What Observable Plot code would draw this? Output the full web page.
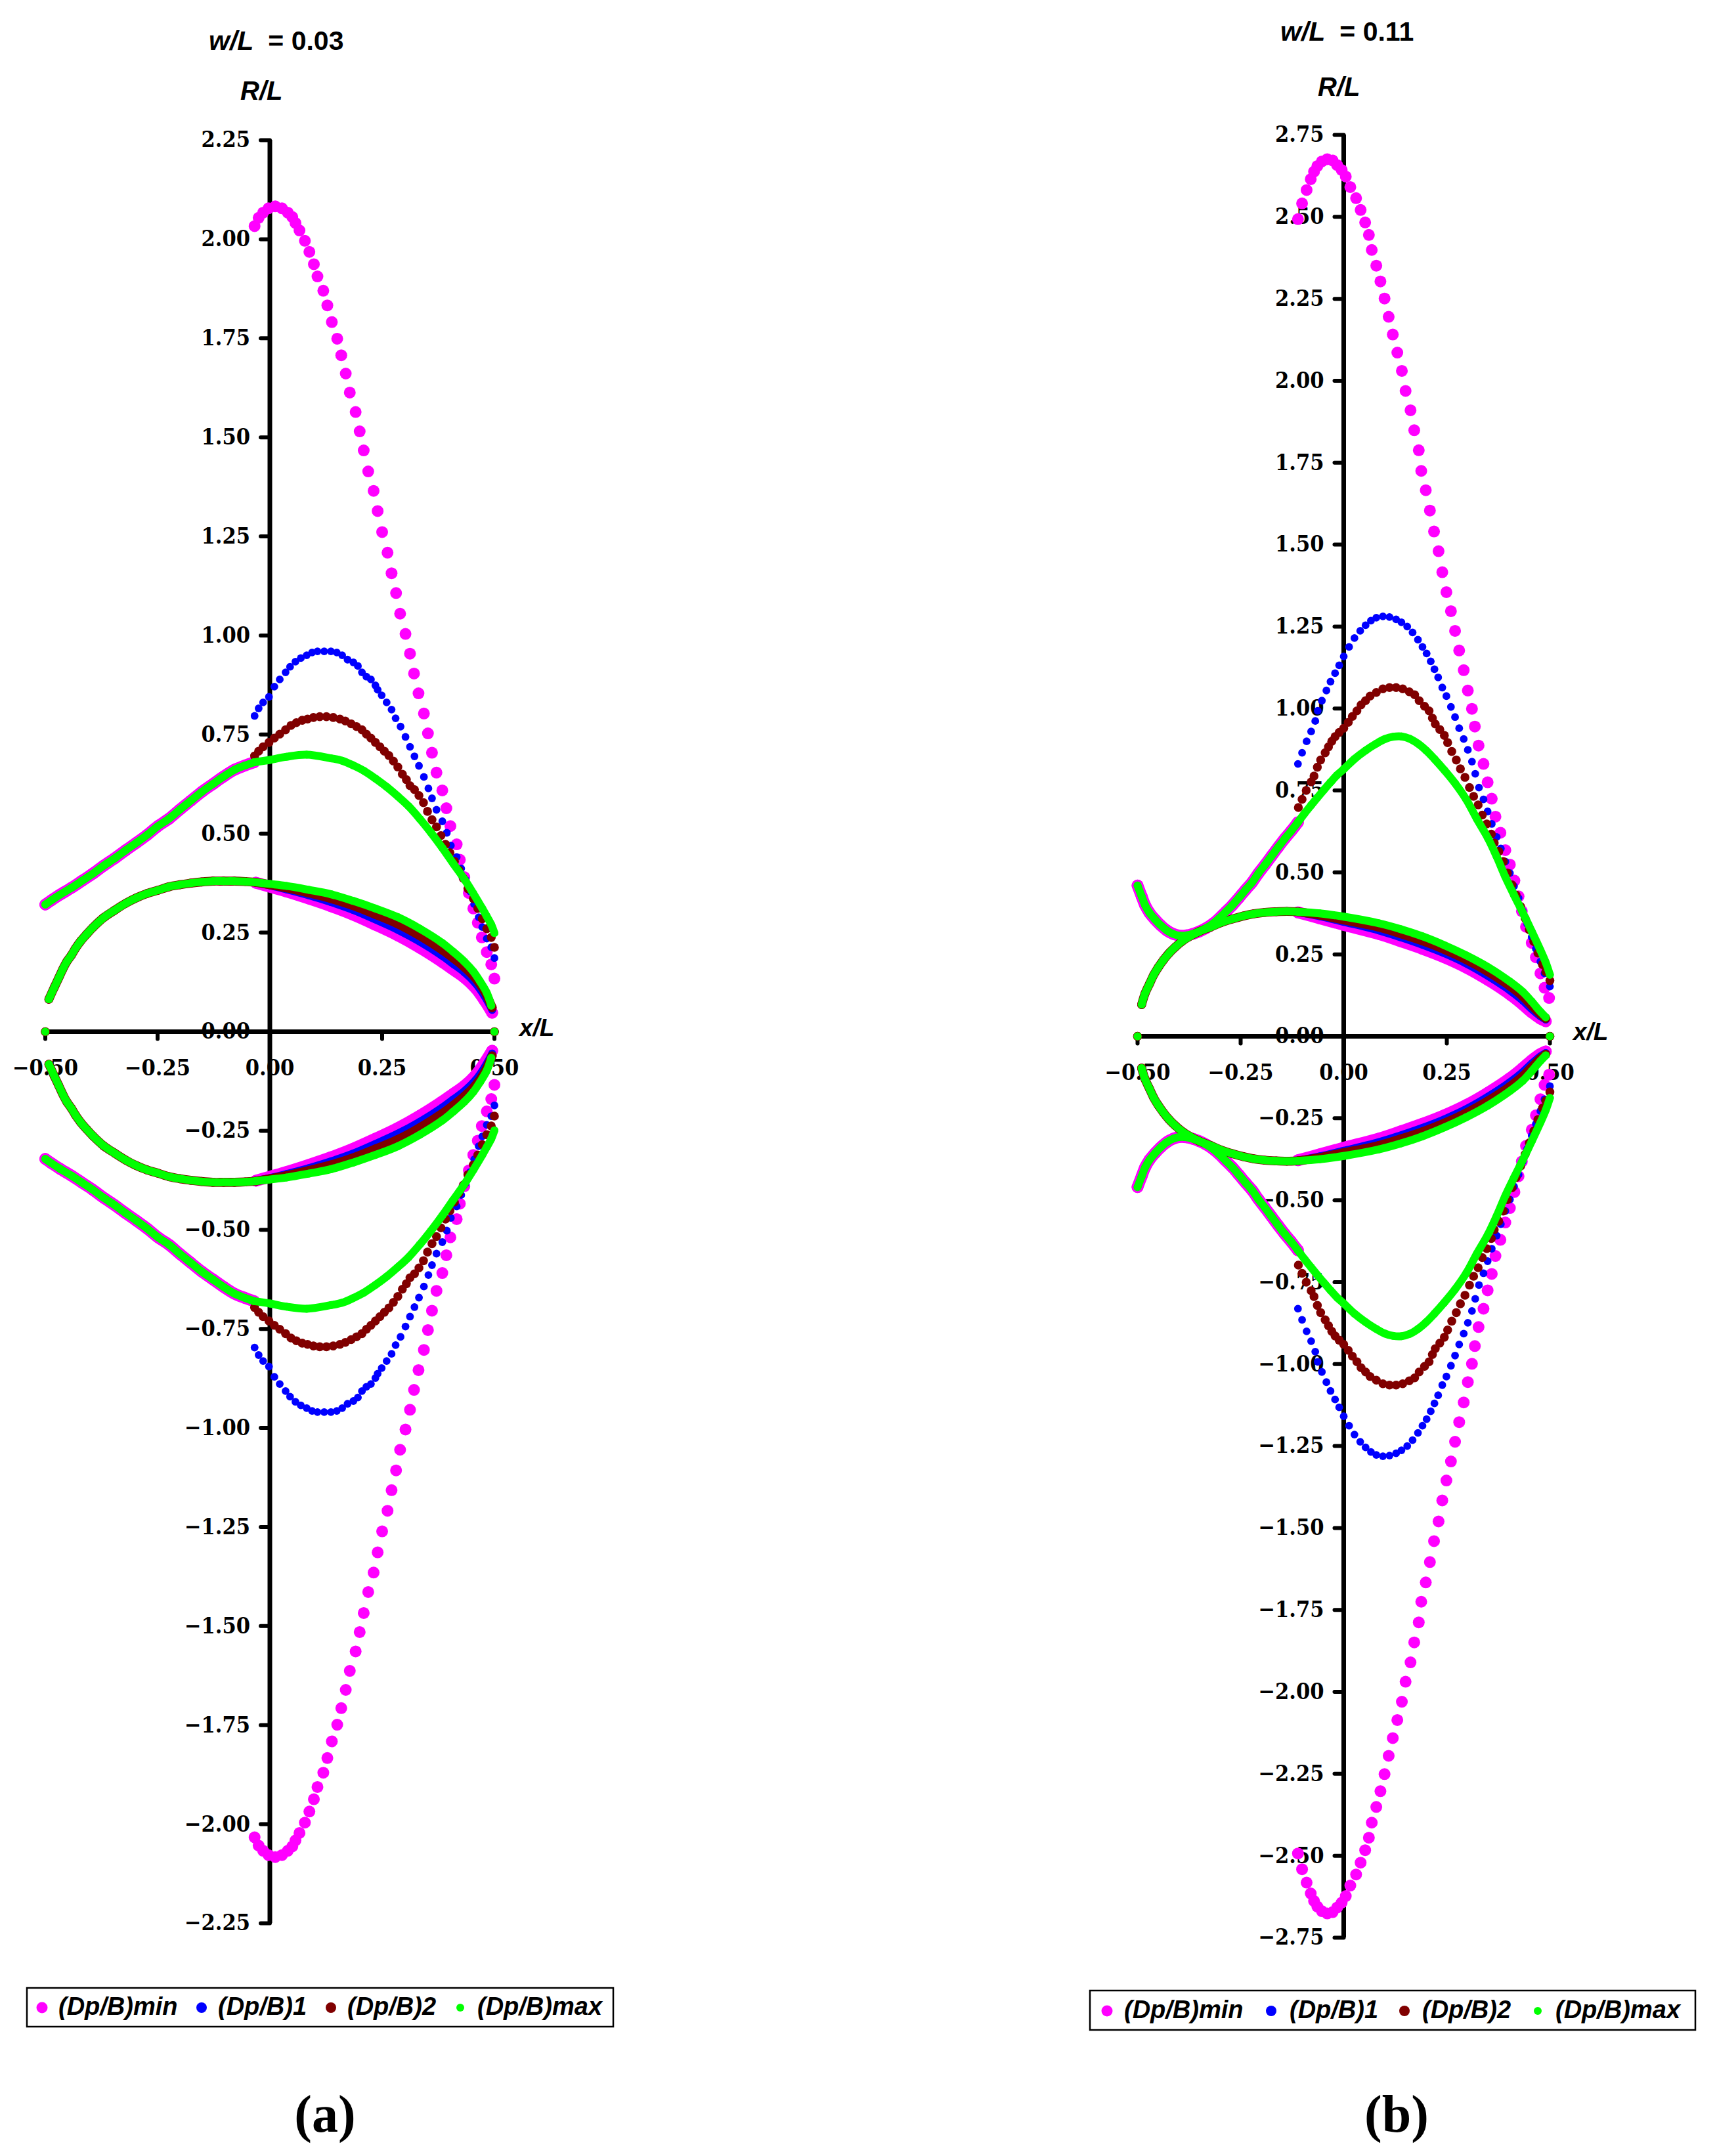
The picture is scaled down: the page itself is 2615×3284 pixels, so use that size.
<!DOCTYPE html>
<html><head><meta charset="utf-8">
<script src="https://cdn.jsdelivr.net/npm/d3@7"></script>
<script src="https://cdn.jsdelivr.net/npm/@observablehq/plot@0.6"></script>
<style>
html,body{margin:0;padding:0;background:#fff;}
#page{position:relative;width:2615px;height:3284px;overflow:hidden;background:#fff;}
.panel{position:absolute;top:0;}
</style></head><body><div id="page"></div>
<script>
// ---------------- DATA ----------------
const seriesNames = ["(Dp/B)min", "(Dp/B)1", "(Dp/B)2", "(Dp/B)max"];
const seriesColors = ["#ff00ff", "#0000ff", "#800000", "#00ff00"];
const xTicks = [-0.5, -0.25, 0, 0.25, 0.5];
const aYTicks = [-2.25, -2, -1.75, -1.5, -1.25, -1, -0.75, -0.5, -0.25, 0, 0.25, 0.5, 0.75, 1, 1.25, 1.5, 1.75, 2, 2.25];
const bYTicks = [-2.75, -2.5, -2.25, -2, -1.75, -1.5, -1.25, -1, -0.75, -0.5, -0.25, 0, 0.25, 0.5, 0.75, 1, 1.25, 1.5, 1.75, 2, 2.25, 2.5, 2.75];

// Panel (a)  w/L = 0.03   (upper half; the lower half is its mirror image)
const aAxisEnds = [[-0.5, 0], [0.5, 0]];
const aOuterLeft = [[-0.500,0.321],[-0.486,0.332],[-0.467,0.346],[-0.442,0.363],[-0.418,0.381],[-0.394,0.399],[-0.370,0.419],[-0.345,0.438],[-0.321,0.458],[-0.297,0.477],[-0.273,0.497],[-0.249,0.519],[-0.224,0.538],[-0.200,0.561],[-0.176,0.583],[-0.152,0.605],[-0.127,0.625],[-0.103,0.644],[-0.079,0.661],[-0.055,0.672],[-0.035,0.680]];
const aLensLeft = [[-0.492,0.082],[-0.480,0.112],[-0.470,0.136],[-0.461,0.158],[-0.452,0.177],[-0.442,0.193],[-0.433,0.210],[-0.421,0.229],[-0.408,0.246],[-0.394,0.263],[-0.370,0.288],[-0.345,0.307],[-0.321,0.324],[-0.297,0.338],[-0.273,0.349],[-0.249,0.357],[-0.224,0.366],[-0.200,0.371],[-0.176,0.375],[-0.152,0.378],[-0.127,0.380],[-0.103,0.380],[-0.079,0.380],[-0.055,0.379],[-0.031,0.377]];
const aMinHump = [[-0.034,2.033],[-0.025,2.054],[-0.015,2.067],[-0.003,2.078],[0.012,2.083],[0.027,2.078],[0.040,2.067],[0.050,2.056],[0.057,2.041],[0.066,2.022],[0.078,1.996],[0.088,1.968],[0.098,1.937],[0.106,1.906],[0.119,1.870],[0.128,1.833],[0.138,1.791],[0.150,1.749],[0.159,1.707],[0.169,1.661],[0.178,1.613],[0.191,1.564],[0.200,1.515],[0.209,1.467],[0.219,1.414],[0.231,1.365],[0.240,1.314],[0.250,1.261],[0.262,1.209],[0.271,1.157],[0.281,1.107],[0.290,1.055],[0.302,1.004],[0.312,0.954],[0.321,0.904],[0.331,0.854],[0.343,0.803],[0.352,0.753],[0.361,0.704],[0.371,0.654],[0.384,0.609],[0.393,0.564],[0.402,0.519],[0.416,0.473],[0.423,0.434],[0.433,0.390],[0.443,0.350],[0.453,0.311],[0.463,0.275],[0.472,0.238],[0.483,0.201],[0.493,0.170],[0.500,0.134]];
const aMinLens = [[-0.031,0.376],[0.000,0.366],[0.037,0.354],[0.087,0.336],[0.136,0.317],[0.186,0.295],[0.235,0.270],[0.285,0.243],[0.334,0.212],[0.384,0.176],[0.408,0.157],[0.433,0.137],[0.458,0.110],[0.478,0.079],[0.495,0.048]];
const a1Outer = [[-0.034,0.797],[-0.025,0.816],[-0.015,0.831],[-0.002,0.845],[0.010,0.871],[0.022,0.889],[0.035,0.907],[0.045,0.921],[0.057,0.934],[0.069,0.943],[0.082,0.950],[0.094,0.957],[0.106,0.960],[0.121,0.960],[0.136,0.960],[0.149,0.957],[0.161,0.950],[0.173,0.939],[0.186,0.932],[0.196,0.923],[0.205,0.907],[0.215,0.896],[0.225,0.889],[0.235,0.874],[0.240,0.863],[0.249,0.849],[0.260,0.831],[0.271,0.813],[0.280,0.791],[0.291,0.770],[0.302,0.744],[0.312,0.719],[0.322,0.695],[0.332,0.671],[0.343,0.643],[0.353,0.614],[0.361,0.589],[0.371,0.560],[0.384,0.531],[0.394,0.502],[0.403,0.470],[0.416,0.441],[0.426,0.412],[0.436,0.383],[0.446,0.354],[0.455,0.322],[0.465,0.289],[0.473,0.264],[0.483,0.235],[0.493,0.213],[0.500,0.186]];
const a1Lens = [[-0.031,0.376],[0.000,0.369],[0.037,0.359],[0.087,0.344],[0.136,0.327],[0.186,0.307],[0.235,0.283],[0.285,0.257],[0.334,0.227],[0.384,0.191],[0.408,0.171],[0.433,0.150],[0.458,0.122],[0.478,0.090],[0.495,0.055]];
const a2Outer = [[-0.034,0.696],[-0.025,0.708],[-0.015,0.719],[-0.002,0.730],[0.010,0.741],[0.022,0.751],[0.035,0.762],[0.047,0.773],[0.059,0.780],[0.072,0.786],[0.084,0.789],[0.097,0.793],[0.111,0.795],[0.126,0.795],[0.141,0.793],[0.156,0.789],[0.168,0.784],[0.181,0.777],[0.193,0.770],[0.205,0.762],[0.215,0.751],[0.225,0.741],[0.235,0.730],[0.245,0.719],[0.255,0.708],[0.265,0.697],[0.275,0.683],[0.285,0.668],[0.295,0.650],[0.304,0.636],[0.312,0.621],[0.322,0.611],[0.332,0.596],[0.342,0.578],[0.351,0.556],[0.361,0.535],[0.371,0.517],[0.381,0.495],[0.391,0.473],[0.401,0.452],[0.411,0.430],[0.421,0.408],[0.431,0.387],[0.441,0.361],[0.453,0.336],[0.463,0.311],[0.473,0.285],[0.483,0.260],[0.493,0.238],[0.500,0.213]];
const a2Lens = [[-0.031,0.377],[0.000,0.371],[0.037,0.363],[0.087,0.350],[0.136,0.336],[0.186,0.318],[0.235,0.296],[0.285,0.272],[0.334,0.242],[0.384,0.206],[0.408,0.186],[0.433,0.163],[0.458,0.135],[0.478,0.102],[0.495,0.061]];
const aMaxOuter = [[-0.035,0.680],[0.000,0.686],[0.037,0.694],[0.082,0.699],[0.136,0.690],[0.161,0.684],[0.186,0.672],[0.210,0.658],[0.235,0.639],[0.260,0.618],[0.285,0.594],[0.309,0.569],[0.334,0.537],[0.359,0.502],[0.384,0.464],[0.408,0.425],[0.433,0.385],[0.453,0.349],[0.473,0.311],[0.483,0.291],[0.493,0.270],[0.500,0.249]];
const aMaxLens = [[-0.031,0.377],[0.000,0.373],[0.037,0.368],[0.087,0.358],[0.136,0.347],[0.186,0.330],[0.235,0.311],[0.285,0.289],[0.334,0.260],[0.384,0.224],[0.408,0.202],[0.433,0.177],[0.453,0.152],[0.468,0.127],[0.483,0.098],[0.493,0.066]];

// Panel (b)  w/L = 0.11
const bAxisEnds = [[-0.5, 0], [0.5, 0]];
const bOuterLeft = [[-0.500,0.460],[-0.490,0.427],[-0.482,0.401],[-0.471,0.377],[-0.458,0.357],[-0.445,0.340],[-0.429,0.323],[-0.413,0.312],[-0.397,0.307],[-0.381,0.308],[-0.365,0.313],[-0.350,0.320],[-0.334,0.330],[-0.318,0.343],[-0.302,0.360],[-0.286,0.380],[-0.270,0.400],[-0.254,0.423],[-0.238,0.447],[-0.222,0.470],[-0.207,0.497],[-0.191,0.523],[-0.175,0.550],[-0.159,0.577],[-0.143,0.603],[-0.127,0.627],[-0.111,0.653]];
const bLensLeft = [[-0.490,0.097],[-0.482,0.130],[-0.471,0.160],[-0.461,0.187],[-0.450,0.210],[-0.437,0.233],[-0.424,0.253],[-0.408,0.273],[-0.392,0.290],[-0.376,0.303],[-0.350,0.320],[-0.323,0.333],[-0.297,0.347],[-0.270,0.358],[-0.244,0.367],[-0.217,0.374],[-0.191,0.378],[-0.164,0.380],[-0.138,0.381],[-0.111,0.380]];
const bMinHump = [[-0.111,2.493],[-0.101,2.541],[-0.090,2.582],[-0.080,2.615],[-0.072,2.638],[-0.064,2.655],[-0.053,2.669],[-0.040,2.676],[-0.027,2.672],[-0.016,2.658],[-0.005,2.643],[0.005,2.623],[0.016,2.591],[0.030,2.557],[0.041,2.521],[0.052,2.483],[0.061,2.445],[0.068,2.399],[0.079,2.351],[0.089,2.303],[0.099,2.251],[0.109,2.195],[0.119,2.141],[0.130,2.086],[0.141,2.030],[0.150,1.969],[0.162,1.910],[0.171,1.849],[0.182,1.788],[0.188,1.725],[0.199,1.666],[0.209,1.604],[0.219,1.540],[0.230,1.480],[0.239,1.416],[0.249,1.355],[0.260,1.297],[0.270,1.237],[0.280,1.177],[0.291,1.117],[0.301,1.055],[0.311,0.999],[0.318,0.945],[0.327,0.887],[0.339,0.831],[0.349,0.775],[0.359,0.725],[0.368,0.670],[0.380,0.621],[0.392,0.568],[0.403,0.524],[0.414,0.475],[0.424,0.427],[0.432,0.382],[0.442,0.334],[0.456,0.285],[0.466,0.241],[0.477,0.192],[0.487,0.148],[0.498,0.117]];
const bMinLens = [[-0.111,0.378],[-0.058,0.360],[0.000,0.340],[0.085,0.312],[0.138,0.290],[0.191,0.267],[0.244,0.241],[0.297,0.210],[0.350,0.172],[0.403,0.128],[0.434,0.097],[0.456,0.073],[0.477,0.054],[0.490,0.046]];
const b1Outer = [[-0.111,0.831],[-0.101,0.865],[-0.090,0.900],[-0.079,0.930],[-0.069,0.962],[-0.063,0.993],[-0.053,1.024],[-0.042,1.055],[-0.032,1.082],[-0.021,1.108],[-0.011,1.132],[0.000,1.159],[0.013,1.188],[0.026,1.215],[0.040,1.237],[0.053,1.254],[0.066,1.268],[0.079,1.277],[0.095,1.281],[0.111,1.279],[0.127,1.272],[0.140,1.263],[0.154,1.250],[0.167,1.232],[0.180,1.210],[0.191,1.188],[0.201,1.168],[0.211,1.144],[0.220,1.120],[0.229,1.095],[0.239,1.064],[0.249,1.038],[0.260,1.005],[0.270,0.974],[0.280,0.940],[0.291,0.907],[0.301,0.874],[0.311,0.838],[0.319,0.801],[0.328,0.759],[0.339,0.723],[0.349,0.686],[0.359,0.648],[0.371,0.608],[0.381,0.573],[0.392,0.533],[0.403,0.498],[0.413,0.458],[0.424,0.422],[0.434,0.382],[0.445,0.343],[0.456,0.303],[0.466,0.267],[0.477,0.228],[0.487,0.192],[0.500,0.152]];
const b1Lens = [[-0.111,0.379],[-0.058,0.366],[0.000,0.349],[0.085,0.323],[0.138,0.302],[0.191,0.279],[0.244,0.253],[0.297,0.222],[0.350,0.184],[0.403,0.140],[0.434,0.109],[0.456,0.083],[0.477,0.061],[0.490,0.051]];
const b2Outer = [[-0.110,0.698],[-0.101,0.723],[-0.091,0.750],[-0.079,0.776],[-0.072,0.794],[-0.064,0.821],[-0.056,0.843],[-0.045,0.865],[-0.037,0.883],[-0.029,0.900],[-0.021,0.914],[-0.011,0.927],[0.000,0.940],[0.011,0.958],[0.021,0.976],[0.032,0.993],[0.042,1.011],[0.053,1.024],[0.064,1.038],[0.079,1.049],[0.095,1.060],[0.111,1.064],[0.127,1.064],[0.143,1.060],[0.159,1.051],[0.172,1.042],[0.183,1.024],[0.196,1.007],[0.207,0.993],[0.215,0.971],[0.222,0.953],[0.233,0.936],[0.244,0.918],[0.252,0.896],[0.262,0.869],[0.273,0.843],[0.283,0.816],[0.294,0.790],[0.305,0.759],[0.315,0.732],[0.326,0.706],[0.336,0.675],[0.347,0.648],[0.358,0.617],[0.365,0.590],[0.376,0.564],[0.387,0.533],[0.397,0.498],[0.408,0.462],[0.418,0.431],[0.429,0.396],[0.440,0.360],[0.450,0.325],[0.461,0.289],[0.471,0.254],[0.482,0.219],[0.490,0.197],[0.500,0.170]];
const b2Lens = [[-0.111,0.380],[-0.058,0.370],[0.000,0.355],[0.085,0.333],[0.138,0.313],[0.191,0.291],[0.244,0.265],[0.297,0.234],[0.350,0.197],[0.403,0.153],[0.434,0.122],[0.456,0.094],[0.477,0.068],[0.490,0.055]];
const bMaxOuter = [[-0.111,0.653],[-0.095,0.680],[-0.079,0.705],[-0.064,0.728],[-0.048,0.752],[-0.032,0.775],[-0.016,0.797],[0.000,0.815],[0.026,0.846],[0.053,0.872],[0.079,0.893],[0.100,0.907],[0.120,0.914],[0.140,0.915],[0.160,0.908],[0.180,0.893],[0.200,0.872],[0.220,0.846],[0.244,0.812],[0.270,0.772],[0.297,0.723],[0.323,0.663],[0.350,0.604],[0.371,0.548],[0.392,0.486],[0.413,0.431],[0.434,0.378],[0.456,0.320],[0.477,0.263],[0.490,0.225],[0.500,0.188]];
const bMaxLens = [[-0.111,0.380],[-0.058,0.375],[0.000,0.365],[0.085,0.345],[0.138,0.327],[0.191,0.305],[0.244,0.278],[0.297,0.247],[0.350,0.211],[0.403,0.167],[0.434,0.136],[0.456,0.106],[0.477,0.075],[0.490,0.058]];

// ---------------- LAYOUT ----------------
const fmt = d3.format(".2f");
const tickLeft = {draw(ctx) { ctx.moveTo(-14, 0); ctx.lineTo(0, 0); }};
const tickDown = {draw(ctx) { ctx.moveTo(0, 0); ctx.lineTo(0, 11); }};
const radius = [9, 5.9, 6.8, 6];

const panels = [
  {
    left: 0, width: 1300, height: 3000,
    margin: {left: 68.5, right: 547.5, top: 213, bottom: 71},
    xDomain: [-0.5, 0.5], yDomain: [-2.25, 2.25], yTicks: aYTicks,
    branches: [
      {s: 0, pts: aOuterLeft, dense: true}, {s: 0, pts: aMinHump, dense: false}, {s: 0, pts: aMinLens, dense: true},
      {s: 1, pts: aLensLeft, dense: true}, {s: 1, pts: a1Outer, dense: false}, {s: 1, pts: a1Lens, dense: true},
      {s: 2, pts: aLensLeft, dense: true}, {s: 2, pts: a2Outer, dense: false}, {s: 2, pts: a2Lens, dense: true}, {s: 2, pts: aAxisEnds, dense: false},
      {s: 3, pts: aOuterLeft, dense: true}, {s: 3, pts: aMaxOuter, dense: true}, {s: 3, pts: aLensLeft, dense: true}, {s: 3, pts: aMaxLens, dense: true}, {s: 3, pts: aAxisEnds, dense: false}
    ]
  },
  {
    left: 1300, width: 1315, height: 3000,
    margin: {left: 432, right: 255, top: 205, bottom: 49},
    xDomain: [-0.5, 0.5], yDomain: [-2.75, 2.75], yTicks: bYTicks,
    branches: [
      {s: 0, pts: bOuterLeft, dense: true}, {s: 0, pts: bMinHump, dense: false}, {s: 0, pts: bMinLens, dense: true},
      {s: 1, pts: bLensLeft, dense: true}, {s: 1, pts: b1Outer, dense: false}, {s: 1, pts: b1Lens, dense: true},
      {s: 2, pts: bLensLeft, dense: true}, {s: 2, pts: b2Outer, dense: false}, {s: 2, pts: b2Lens, dense: true}, {s: 2, pts: bAxisEnds, dense: false},
      {s: 3, pts: bOuterLeft, dense: true}, {s: 3, pts: bMaxOuter, dense: true}, {s: 3, pts: bLensLeft, dense: true}, {s: 3, pts: bMaxLens, dense: true}, {s: 3, pts: bAxisEnds, dense: false}
    ]
  }
];

const tickFont = {fontFamily: "'DejaVu Serif Condensed', 'DejaVu Serif', serif", fontSize: 34, fontWeight: "bold", fill: "#000"};

function buildPanel(p) {
  const marks = [
    Plot.ruleY([0], {x1: p.xDomain[0], x2: p.xDomain[1], stroke: "#000", strokeWidth: 7}),
    Plot.ruleX([0], {y1: p.yDomain[0], y2: p.yDomain[1], stroke: "#000", strokeWidth: 7}),
    Plot.dot(p.yTicks, {x: () => 0, y: d => d, symbol: tickLeft, stroke: "#000", strokeWidth: 6, strokeLinecap: "round", fill: "none"}),
    Plot.dot(xTicks, {x: d => d, y: () => 0, symbol: tickDown, stroke: "#000", strokeWidth: 6, strokeLinecap: "round", fill: "none"}),
    Plot.text(p.yTicks, {x: () => 0, y: d => d, text: d => fmt(d), textAnchor: "end", dx: -30, ...tickFont}),
    Plot.text(xTicks, {x: d => d, y: () => 0, text: d => fmt(d), dy: 56, ...tickFont})
  ];
  for (let s = 0; s < seriesNames.length; s++) {
    const lineRows = [], dotRows = [];
    p.branches.forEach((b, bi) => {
      if (b.s !== s) return;
      for (const sign of [1, -1]) {
        const key = bi + ":" + sign;
        for (const [x, y] of b.pts) {
          const row = {x, y: sign * y, key, series: seriesNames[s]};
          dotRows.push(row);
          if (b.dense) lineRows.push(row);
        }
      }
    });
    const r = radius[s];
    if (lineRows.length) {
      marks.push(Plot.line(lineRows, {x: "x", y: "y", z: "key", stroke: seriesColors[s], strokeWidth: 2 * r,
        strokeLinecap: "round", strokeLinejoin: "round", curve: "catmull-rom"}));
    }
    marks.push(Plot.dot(dotRows, {x: "x", y: "y", r, fill: seriesColors[s]}));
  }
  return Plot.plot({
    width: p.width, height: p.height,
    marginLeft: p.margin.left, marginRight: p.margin.right, marginTop: p.margin.top, marginBottom: p.margin.bottom,
    x: {domain: p.xDomain, axis: null},
    y: {domain: p.yDomain, axis: null},
    style: {overflow: "visible", background: "none"},
    marks
  });
}

const page = document.getElementById("page");
for (const p of panels) {
  const div = document.createElement("div");
  div.className = "panel";
  div.style.left = p.left + "px";
  div.style.width = p.width + "px";
  div.appendChild(buildPanel(p));
  page.appendChild(div);
}

// ---------------- TEXT OVERLAY ----------------
const svg = d3.select(page).append("svg")
  .attr("width", 2615).attr("height", 3284)
  .style("position", "absolute").style("left", "0px").style("top", "0px").style("pointer-events", "none");
const sans = "'Liberation Sans', Arial, sans-serif";
const serif = "'Liberation Serif', 'Times New Roman', serif";

const titles = [
  {x: 318, y: 76, w: "w/L", rest: "= 0.03"},
  {x: 1950, y: 62, w: "w/L", rest: "= 0.11"}
];
for (const t of titles) {
  const tx = svg.append("text").attr("x", t.x).attr("y", t.y)
    .attr("font-family", sans).attr("font-size", 41).attr("font-weight", "bold");
  tx.append("tspan").attr("font-style", "italic").text(t.w);
  tx.append("tspan").attr("dx", 22).text(t.rest);
}
const axisLabels = [
  {x: 366, y: 152, text: "R/L", size: 40},
  {x: 2007, y: 146, text: "R/L", size: 40},
  {x: 791, y: 1578, text: "x/L", size: 37},
  {x: 2396, y: 1584, text: "x/L", size: 37}
];
for (const a of axisLabels) {
  svg.append("text").attr("x", a.x).attr("y", a.y).attr("font-family", sans)
    .attr("font-size", a.size).attr("font-weight", "bold").attr("font-style", "italic").text(a.text);
}

const legends = [
  {box: [41, 3028, 893, 59], dots: [64, 307, 504, 701], texts: [89, 332, 529, 727], cy: 3058, base: 3069},
  {box: [1660, 3032, 922, 60], dots: [1686, 1936, 2139, 2342], texts: [1712, 1964, 2166, 2369], cy: 3063, base: 3074}
];
const legendR = [8.5, 8, 8, 6];
for (const L of legends) {
  svg.append("rect").attr("x", L.box[0]).attr("y", L.box[1]).attr("width", L.box[2]).attr("height", L.box[3])
    .attr("fill", "#fff").attr("stroke", "#000").attr("stroke-width", 2.5);
  seriesNames.forEach((name, i) => {
    svg.append("circle").attr("cx", L.dots[i]).attr("cy", L.cy).attr("r", legendR[i]).attr("fill", seriesColors[i]);
    svg.append("text").attr("x", L.texts[i]).attr("y", L.base).attr("font-family", sans)
      .attr("font-size", 38).attr("font-weight", "bold").attr("font-style", "italic").text(name);
  });
}

const captions = [{x: 495, text: "(a)"}, {x: 2127, text: "(b)"}];
for (const c of captions) {
  svg.append("text").attr("x", c.x).attr("y", 3247).attr("text-anchor", "middle")
    .attr("font-family", serif).attr("font-size", 80).attr("font-weight", "bold").text(c.text);
}
</script>
</body></html>
